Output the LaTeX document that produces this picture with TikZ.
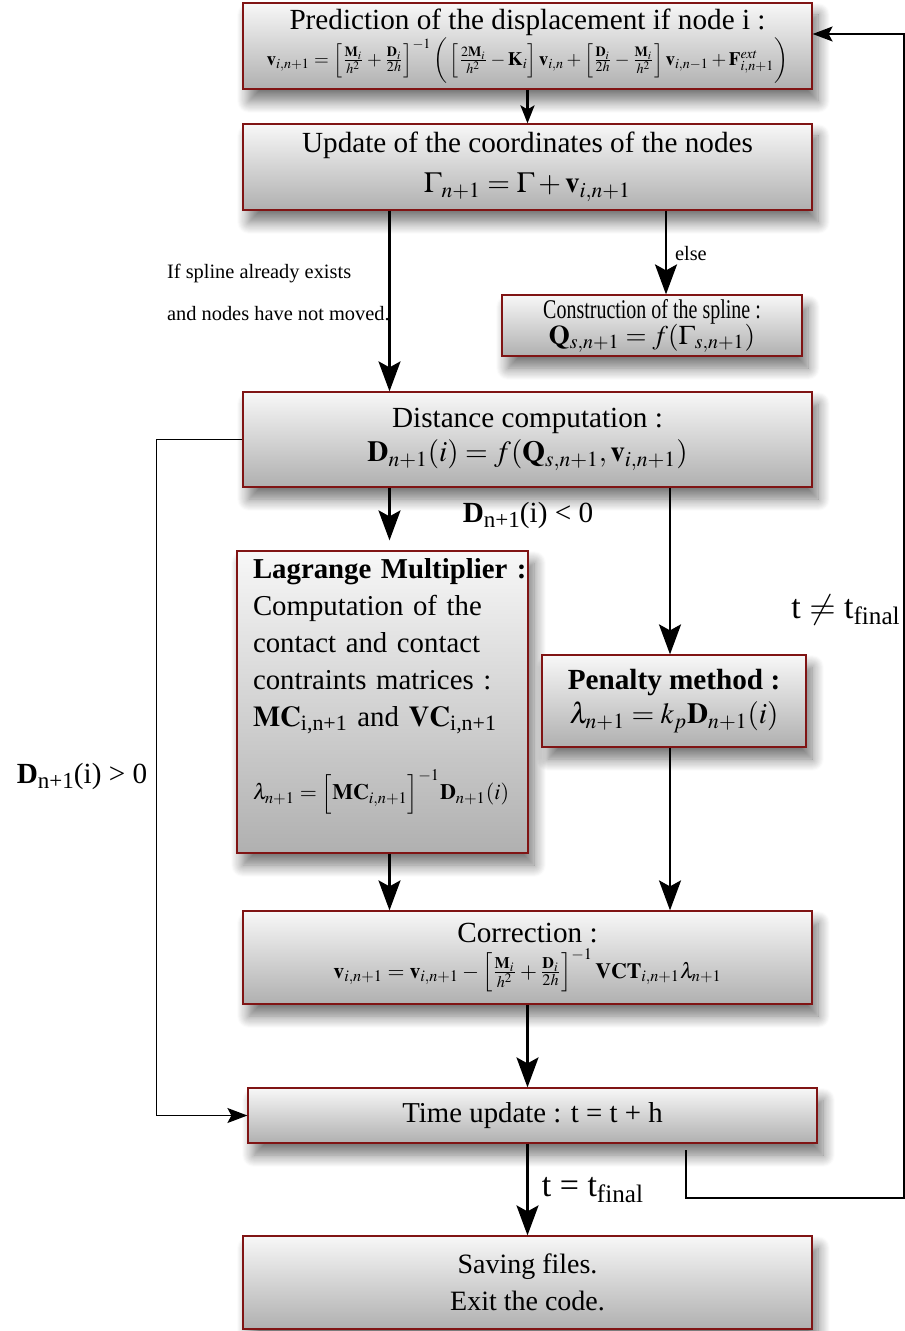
\documentclass[tikz,border=0pt]{standalone}
\usepackage{amsmath}
\usepackage{mathptmx}
\usepackage[no-math]{fontspec}
\setmainfont{Liberation Serif}
\usepackage{graphicx}
\usetikzlibrary{arrows.meta,shadings,shadows.blur}
\definecolor{boxred}{RGB}{128,20,20}
\newcommand{\lowsub}[1]{\raisebox{-0.4ex}{\fontsize{11.5}{12}\selectfont #1}}
\begin{document}
\begin{tikzpicture}[x=0.5pt,y=-0.5pt,
  box/.style={draw=boxred,line width=0.6pt,top color=gray!6,bottom color=gray!62,
    blur shadow={shadow xshift=3pt,shadow yshift=-6pt,shadow blur radius=6pt,shadow blur steps=12,shadow opacity=55},
    inner sep=2pt,align=center,font=\fontsize{14.6}{17}\selectfont},
  flow/.style={-{Stealth[length=15pt,width=11pt,inset=3pt]},line width=1.3pt},
  loop/.style={-{Stealth[length=10pt,width=7.5pt,inset=2pt]},line width=0.7pt},
  lbl/.style={font=\fontsize{10.2}{21}\selectfont}]
\useasboundingbox (0,0) rectangle (904,1331);
\node[box,minimum width=284.5pt,minimum height=43pt] (pred) at (527.5,46) {Prediction of the displacement if node i :\\[1pt]
  {\fontsize{9.5}{11}\selectfont $\mathbf{v}_{i,n+1}=\left[\frac{\mathbf{M}_i}{h^2}+\frac{\mathbf{D}_i}{2h}\right]^{-1}\bigg(\left[\frac{2\mathbf{M}_i}{h^2}-\mathbf{K}_i\right]\mathbf{v}_{i,n}+\left[\frac{\mathbf{D}_i}{2h}-\frac{\mathbf{M}_i}{h^2}\right]\mathbf{v}_{i,n-1}+\mathbf{F}^{ext}_{i,n+1}\bigg)$}};
\node[box,minimum width=284.5pt,minimum height=43pt] (upd) at (527.5,167) {Update of the coordinates of the nodes\\[3pt] $\Gamma_{n+1}=\Gamma+\mathbf{v}_{i,n+1}$};
\node[box,minimum width=150pt,minimum height=30.5pt,inner sep=1pt,font=\fontsize{13.5}{16}\selectfont] (spl) at (652,325.5) {\scalebox{0.74}[1]{Construction of the spline :}\\[-3pt] $\mathbf{Q}_{s,n+1}=f(\Gamma_{s,n+1})$};
\node[box,minimum width=284.5pt,minimum height=47.5pt] (dist) at (527.5,439.5) {Distance computation :\\ $\mathbf{D}_{n+1}(i)=f(\mathbf{Q}_{s,n+1},\mathbf{v}_{i,n+1})$};
\node[box,minimum width=145.5pt,minimum height=151pt,align=left,text width=129.5pt,inner xsep=8pt,inner ysep=2.75pt,font=\fontsize{14.4}{18.5}\selectfont] (lag) at (382.5,702) {\mbox{\textbf{Lagrange Multiplier :}}\\ Computation of the\\ contact and contact\\ contraints matrices :\\ \mbox{$\mathbf{MC}_{\text{i,n+1}}$ and $\mathbf{VC}_{\text{i,n+1}}$}\\[17pt]
  \mbox{\fontsize{11}{13}\selectfont $\lambda_{n+1}=\Big[\mathbf{MC}_{i,n+1}\Big]^{-1}\mathbf{D}_{n+1}(i)$}\rule[-23pt]{0pt}{23pt}};
\node[box,minimum width=132pt,minimum height=46pt] (pen) at (674,701) {\textbf{Penalty method :}\\ $\lambda_{n+1}=k_p\mathbf{D}_{n+1}(i)$};
\node[box,minimum width=284.5pt,minimum height=46.5pt] (corr) at (527.5,957.5) {Correction :\\[1pt]
  {\fontsize{10.9}{13}\selectfont $\mathbf{v}_{i,n+1}=\mathbf{v}_{i,n+1}-\left[\frac{\mathbf{M}_i}{h^2}+\frac{\mathbf{D}_i}{2h}\right]^{-1}\mathbf{VCT}_{i,n+1}\lambda_{n+1}$}};
\node[box,minimum width=284.5pt,minimum height=27.5pt,font=\fontsize{14.4}{17}\selectfont] (time) at (532.5,1115.5) {Time update : t = t + h};
\node[box,minimum width=284.5pt,minimum height=46.5pt,font=\fontsize{14}{18.5}\selectfont] (save) at (527.5,1282.5) {Saving files.\\ Exit the code.};
\node[lbl,anchor=west,align=left] (ifspline) at (160,292) {If spline already exists\\ and nodes have not moved.};
\node[lbl,anchor=west] (else) at (668,254) {else};
\node[font=\fontsize{14.6}{17}\selectfont] (dneg) at (528,515) {\textbf{D}\lowsub{n+1}(i) < 0};
\node[font=\fontsize{14.6}{17}\selectfont] (dpos) at (82,776) {\textbf{D}\lowsub{n+1}(i) > 0};
\node[font=\fontsize{17}{20}\selectfont] (tneq) at (846,610) {t $\neq$ t\textsubscript{final}};
\node[font=\fontsize{17}{20}\selectfont] (teq) at (593,1190) {t = t\textsubscript{final}};
\coordinate (loopstart) at (686,1150);
\coordinate (loopcorner) at (904,1198);
\draw[flow,-{Stealth[length=9pt,width=7pt,inset=2pt]}] (pred) -- (upd);
\draw[flow] (upd.south -| lag.north) ++(7,0) -- ([xshift=3.5pt]dist.north -| lag.north);
\draw[flow] (upd.south -| spl.north) ++(14,0) -- ([xshift=7pt]spl.north);
\draw[flow] (dist.south -| lag.north) ++(7,0) -- ([xshift=3.5pt,yshift=5pt]lag.north);
\draw[flow] (dist.south -| pen.north) ++(-4,0) -- ([xshift=-2pt]pen.north);
\draw[flow] ([xshift=3.5pt]lag.south) -- ([xshift=3.5pt]corr.north -| lag.south);
\draw[flow] ([xshift=-2pt]pen.south) -- ([xshift=-2pt]corr.north -| pen.south);
\draw[flow] (corr.south) -- (time.north -| corr.south);
\draw[flow] (time.south -| save.north) -- (save.north);
\draw[loop] (dist.west) -- ++(-86,0) |- (time.west);
\draw[loop] (loopstart) |- (loopcorner) |- ([yshift=6pt]pred.east);
\end{tikzpicture}
\end{document}
